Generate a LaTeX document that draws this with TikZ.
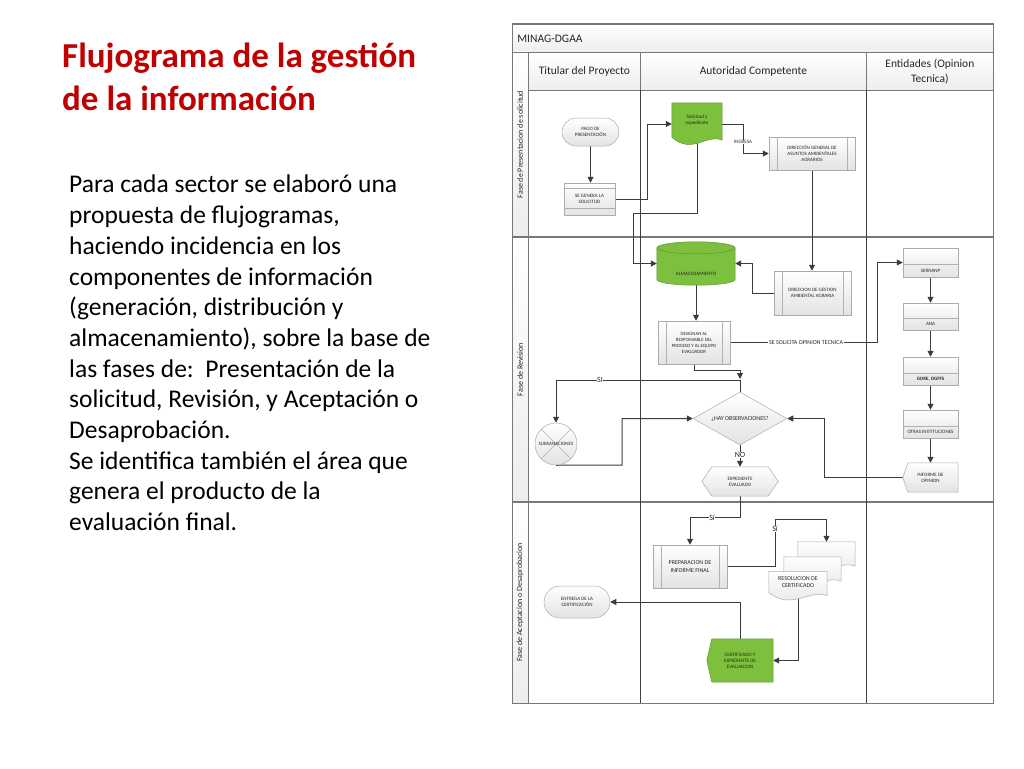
\documentclass[tikz,border=0pt]{standalone}
\usepackage{fontspec}
\setmainfont{Carlito}
\usetikzlibrary{arrows.meta,calc,shapes.geometric}
\pgfdeclarelayer{framelayer}
\pgfdeclarelayer{connlayer}
\pgfdeclarelayer{shapelayer}
\pgfsetlayers{framelayer,connlayer,shapelayer,main}
\definecolor{titlered}{RGB}{192,0,0}
\definecolor{vgreen}{RGB}{124,192,62}
\definecolor{vgreenline}{RGB}{96,150,50}
\definecolor{lnc}{RGB}{60,60,60}
\definecolor{framec}{RGB}{120,120,120}
\newcommand\mydoc[3]{\path[#3] (#1.north west) -- (#1.north east) -- ($(#1.south east)+(0,3)$) .. controls ($(#1.south east)+(-0.3*#2,-4)$) and ($(#1.south west)+(0.4*#2,18)$) .. (#1.south west) -- cycle;}
\newcommand\mysubp[1]{\draw[gray!60,line width=0.4pt] ($(#1.north west)+(8,0)$) -- ($(#1.south west)+(8,0)$) ($(#1.north east)+(-8,0)$) -- ($(#1.south east)+(-8,0)$);}
\begin{document}
\begin{tikzpicture}[x=1pt,y=-1pt,
 tx/.style={font=\fontsize{5}{6}\selectfont, text=black!85, align=center},
 txb/.style={font=\fontsize{6}{7.2}\selectfont, text=black!85, align=center},
 gbox/.style={draw=gray!65, line width=0.5pt, top color=white, bottom color=gray!22},
 gshape/.style={draw=vgreenline, line width=0.5pt, fill=vgreen},
 shp/.style={inner sep=0pt, tx},
 proc/.style={shp, gbox},
 conn/.style={draw=lnc, line width=1pt, -{Triangle[length=6pt,width=6pt]}},
 lab/.style={font=\fontsize{8}{9}\selectfont, fill=white, inner sep=0.6pt, text=black!85},
 smalllab/.style={font=\fontsize{5}{6}\selectfont, fill=white, inner sep=0.6pt, text=black!85},
 hdr/.style={font=\fontsize{11.5}{14.5}\selectfont, text=black!85, align=center},
 cell/.style={draw=framec, line width=0.8pt, top color=white, bottom color=gray!14, inner sep=0pt},
 lane/.style={cell, rotate=90, minimum height=16pt, font=\fontsize{8}{9}\selectfont, text=black!85},
]
\useasboundingbox (0,0) rectangle (1024,768);

% ---------- frame ----------
\begin{pgfonlayer}{framelayer}
\fill[white] (0,0) rectangle (1024,768);
\node[cell, hdr, minimum width=481pt, minimum height=28pt, anchor=north west, text width=471pt, align=left] (org) at (512,24) {MINAG-DGAA};
\node[cell, hdr, minimum width=112pt, minimum height=38pt, anchor=north west] (colA) at (528,52) {Titular del Proyecto};
\node[cell, hdr, minimum width=226pt, minimum height=38pt, anchor=north west] (colB) at (640,52) {Autoridad Competente};
\node[cell, hdr, minimum width=127pt, minimum height=38pt, anchor=north west] (colC) at (866,52) {Entidades (Opinion\\Tecnica)};
\node[lane, minimum width=185pt] (fase1) at (520,144.5) {Fase de Presentacion de solicitud};
\node[lane, minimum width=265pt] (fase2) at (520,369.5) {Fase de Revision};
\node[lane, minimum width=201pt] (fase3) at (520,602.5) {Fase de Aceptacion o Desaprobacion};
\draw[framec, line width=1.2pt] (512,237) -- (993,237) (512,502) -- (993,502);
\draw[black!75, line width=0.8pt] (640,90) -- (640,703) (866,90) -- (866,703);
\draw[framec, line width=1pt] (512,24) rectangle (993,703);
\end{pgfonlayer}

% ---------- left text ----------
\node[anchor=north west, inner sep=0pt, align=left, text=titlered, font=\fontsize{35}{43}\selectfont\bfseries] (title) at (62,43) {Flujograma de la gestión\\de la información};
\node[anchor=north west, inner sep=0pt, align=left, font=\fontsize{25.5}{30.7}\selectfont] (body) at (69,175) {Para cada sector se elaboró una\\propuesta de flujogramas,\\haciendo incidencia en los\\componentes de información\\(generación, distribución y\\almacenamiento), sobre la base de\\las fases de:\ \ Presentación de la\\solicitud, Revisión, y Aceptación o\\Desaprobación.\\Se identifica también el área que\\genera el producto de la\\evaluación final.};

% ---------- phase 1 ----------
\node[proc, rounded corners=14pt, minimum width=57pt, minimum height=28pt] (pago) at (590.5,132) {PAGO DE\\PRESENTACIÓN};
\node[proc, minimum width=51pt, minimum height=32pt] (gen) at (589.5,199) {SE GENERA LA\\SOLICITUD};
\draw[gray!65, line width=0.4pt] ($(gen.north west)+(0,5)$) -- ($(gen.north east)+(0,5)$) ($(gen.south west)+(0,-7)$) -- ($(gen.south east)+(0,-7)$);
\node[shp, minimum width=50pt, minimum height=34pt] (sol) at (697,120) {Solicitud y\\expediente};
\begin{pgfonlayer}{shapelayer}\mydoc{sol}{50}{gshape}\end{pgfonlayer}
\node[proc, minimum width=86pt, minimum height=33pt] (dg) at (812,153.5) {DIRECCIÓN GENERAL DE\\ASUNTOS AMBIENTALES\\AGRARIOS};
\mysubp{dg}

% ---------- phase 2 ----------
\node[shp, minimum width=78pt, minimum height=43pt] (alm) at (696,263.5) {};
\begin{pgfonlayer}{shapelayer}
\path[gshape] ($(alm.north west)+(0,6)$) -- ($(alm.south west)+(0,-6)$) .. controls ($(alm.south west)+(0,2)$) and ($(alm.south east)+(0,2)$) .. ($(alm.south east)+(0,-6)$) -- ($(alm.north east)+(0,6)$) -- cycle;
\path[gshape] ($(alm.north)+(0,6)$) ellipse [x radius=39pt, y radius=6pt];
\end{pgfonlayer}
\node[tx] (almT) at ($(alm.center)+(0,10)$) {ALMACENAMIENTO};
\node[proc, minimum width=77pt, minimum height=44pt] (dga) at (812.5,293) {DIRECCION DE GESTION\\AMBIENTAL AGRARIA};
\mysubp{dga}
\node[proc, minimum width=72pt, minimum height=43pt, font=\fontsize{4.8}{6}\selectfont] (desig) at (694,342.5) {DESIGNAN AL\\RESPONSABLE DEL\\PROCESO Y AL EQUIPO\\EVALUADOR};
\mysubp{desig}
\coordinate (jn) at (740,379);
\coordinate (siL) at (600,380);
\coordinate (subR) at (622,465);
\node[diamond, gbox, tx, inner sep=0pt, aspect=1.8, minimum width=94pt, minimum height=53pt, font=\fontsize{6}{7}\selectfont] (obs) at (740,418.5) {¿HAY OBSERVACIONES?};
\node[circle, gbox, tx, inner sep=0pt, minimum size=42pt, path picture={\draw[gray!60, line width=0.4pt] (path picture bounding box.north west) -- (path picture bounding box.south east) (path picture bounding box.north east) -- (path picture bounding box.south west);}] (subs) at (556,444) {SUBSANACIONES};
\node[shp, minimum width=76pt, minimum height=29pt] (exp) at (740,481.5) {EXPEDIENTE\\EVALUADO};
\begin{pgfonlayer}{shapelayer}
\path[gbox] (exp.west) -- ($(exp.north west)+(10,0)$) -- ($(exp.north east)+(-10,0)$) -- (exp.east) -- ($(exp.south east)+(-10,0)$) -- ($(exp.south west)+(10,0)$) -- cycle;
\end{pgfonlayer}

% entities
\node[proc, minimum width=55pt, minimum height=29pt] (ser) at (930.5,262.5) {};
\node[tx] (serT) at ($(ser.south)+(0,-6.5)$) {SERNANP};
\node[proc, minimum width=55pt, minimum height=27pt] (ana) at (930.5,316.5) {};
\node[tx] (anaT) at ($(ana.south)+(0,-6)$) {ANA};
\node[proc, minimum width=55pt, minimum height=28pt] (gore) at (930.5,371) {};
\node[tx, font=\fontsize{5}{6}\selectfont\bfseries] (goreT) at ($(gore.south)+(0,-6)$) {GORE, DGFFS};
\node[proc, minimum width=55pt, minimum height=28pt] (otras) at (930.5,424) {};
\node[tx] (otrasT) at ($(otras.south)+(0,-6)$) {OTRAS INSTITUCIONES};
\draw[gray!60, line width=0.4pt]
  ($(ser.south west)+(0,-13)$) -- ($(ser.south east)+(0,-13)$)
  ($(ana.south west)+(0,-12)$) -- ($(ana.south east)+(0,-12)$)
  ($(gore.south west)+(0,-12)$) -- ($(gore.south east)+(0,-12)$)
  ($(otras.south west)+(0,-12)$) -- ($(otras.south east)+(0,-12)$);
\node[shp, minimum width=55pt, minimum height=29pt] (inf) at (930.5,477.5) {INFORME DE\\OPINION};
\begin{pgfonlayer}{shapelayer}
\path[gbox] (inf.west) -- ($(inf.north west)+(5,0)$) -- (inf.north east) -- (inf.south east) -- ($(inf.south west)+(5,0)$) -- cycle;
\end{pgfonlayer}

% ---------- phase 3 ----------
\node[proc, txb, minimum width=74pt, minimum height=43pt] (prep) at (690,566.5) {PREPARACION DE\\INFORME FINAL};
\mysubp{prep}
\node[shp, minimum width=57pt, minimum height=21pt] (resb) at (826.5,552.5) {};
\node[shp, minimum width=57pt, minimum height=21pt] (resm) at (812.5,567.5) {};
\node[shp, txb, minimum width=58pt, minimum height=21pt] (res) at (798,582) {RESOLUCION DE\\CERTIFICADO};
\begin{pgfonlayer}{shapelayer}
\mydoc{resb}{57}{gbox}
\mydoc{resm}{57}{gbox}
\mydoc{res}{58}{gbox}
\end{pgfonlayer}
\node[shp, minimum width=66pt, minimum height=43pt] (cert) at (740,660.5) {CERTIFICADO Y\\EXPEDIENTE DE\\EVALUACION};
\begin{pgfonlayer}{shapelayer}
\path[gshape] (cert.west) -- ($(cert.north west)+(5,0)$) -- (cert.north east) -- (cert.south east) -- ($(cert.south west)+(5,0)$) -- cycle;
\end{pgfonlayer}
\node[proc, rounded corners=16pt, minimum width=66pt, minimum height=32pt] (ent) at (577,602) {ENTREGA DE LA\\CERTIFICACIÓN};

% ---------- connectors ----------
\begin{pgfonlayer}{connlayer}
\draw[conn] (pago.south) -- (pago.south |- gen.north);
\draw[conn] (gen.east) -- ++(32,0) |- ($(sol.west)+(0,4)$);
\draw[conn] ($(sol.east)+(0,4)$) -- ++(21,0) |- (dg.west);
\draw[conn] (sol.south) |- (633,213) |- (alm.west);
\draw[conn] (dg.south) -- (dg.south |- dga.north);
\draw[conn] (dga.west) -- ++(-21,0) |- (alm.east);
\draw[conn] (alm.south) -- (alm.south |- desig.north);
\draw[conn] (desig.south) -- ++(0,6) -| (jn);
\draw[conn] (obs.north) -- (obs.north |- siL) -| (subs.north);
\draw[conn] (subs.south) -- (subR) |- (obs.west);
\draw[conn] (obs.south) -- (exp.north);
\draw[conn] (desig.east) -- ++(147,0) |- (ser.west);
\draw[conn] (ser.south) -- (ana.north);
\draw[conn] (ana.south) -- (gore.north);
\draw[conn] (gore.south) -- (otras.north);
\draw[conn] (otras.south) -- (inf.north);
\draw[conn] (inf.west) -- ++(-78,0) |- (obs.east);
\draw[conn] (exp.south) -- ++(0,21.5) -| (prep.north);
\draw[conn] (prep.east) -| (775,519) -| (resb.north);
\draw[conn] (res.south) |- (cert.east);
\draw[conn] (cert.north) |- (ent.east);
\end{pgfonlayer}

% ---------- connector labels ----------
\node[smalllab] (ingT) at (743,142) {INGRESA};
\node[smalllab, font=\fontsize{6}{7}\selectfont] (sotT) at (806,342.5) {SE SOLICITA OPINION TECNICA};
\node[lab] (siT) at (siL) {SI};
\node[lab] (noT) at (740,455) {NO};
\node[lab] (si2T) at (712,517.5) {Sí};
\node[lab] (si3T) at (775,529) {Sí};
\end{tikzpicture}
\end{document}
